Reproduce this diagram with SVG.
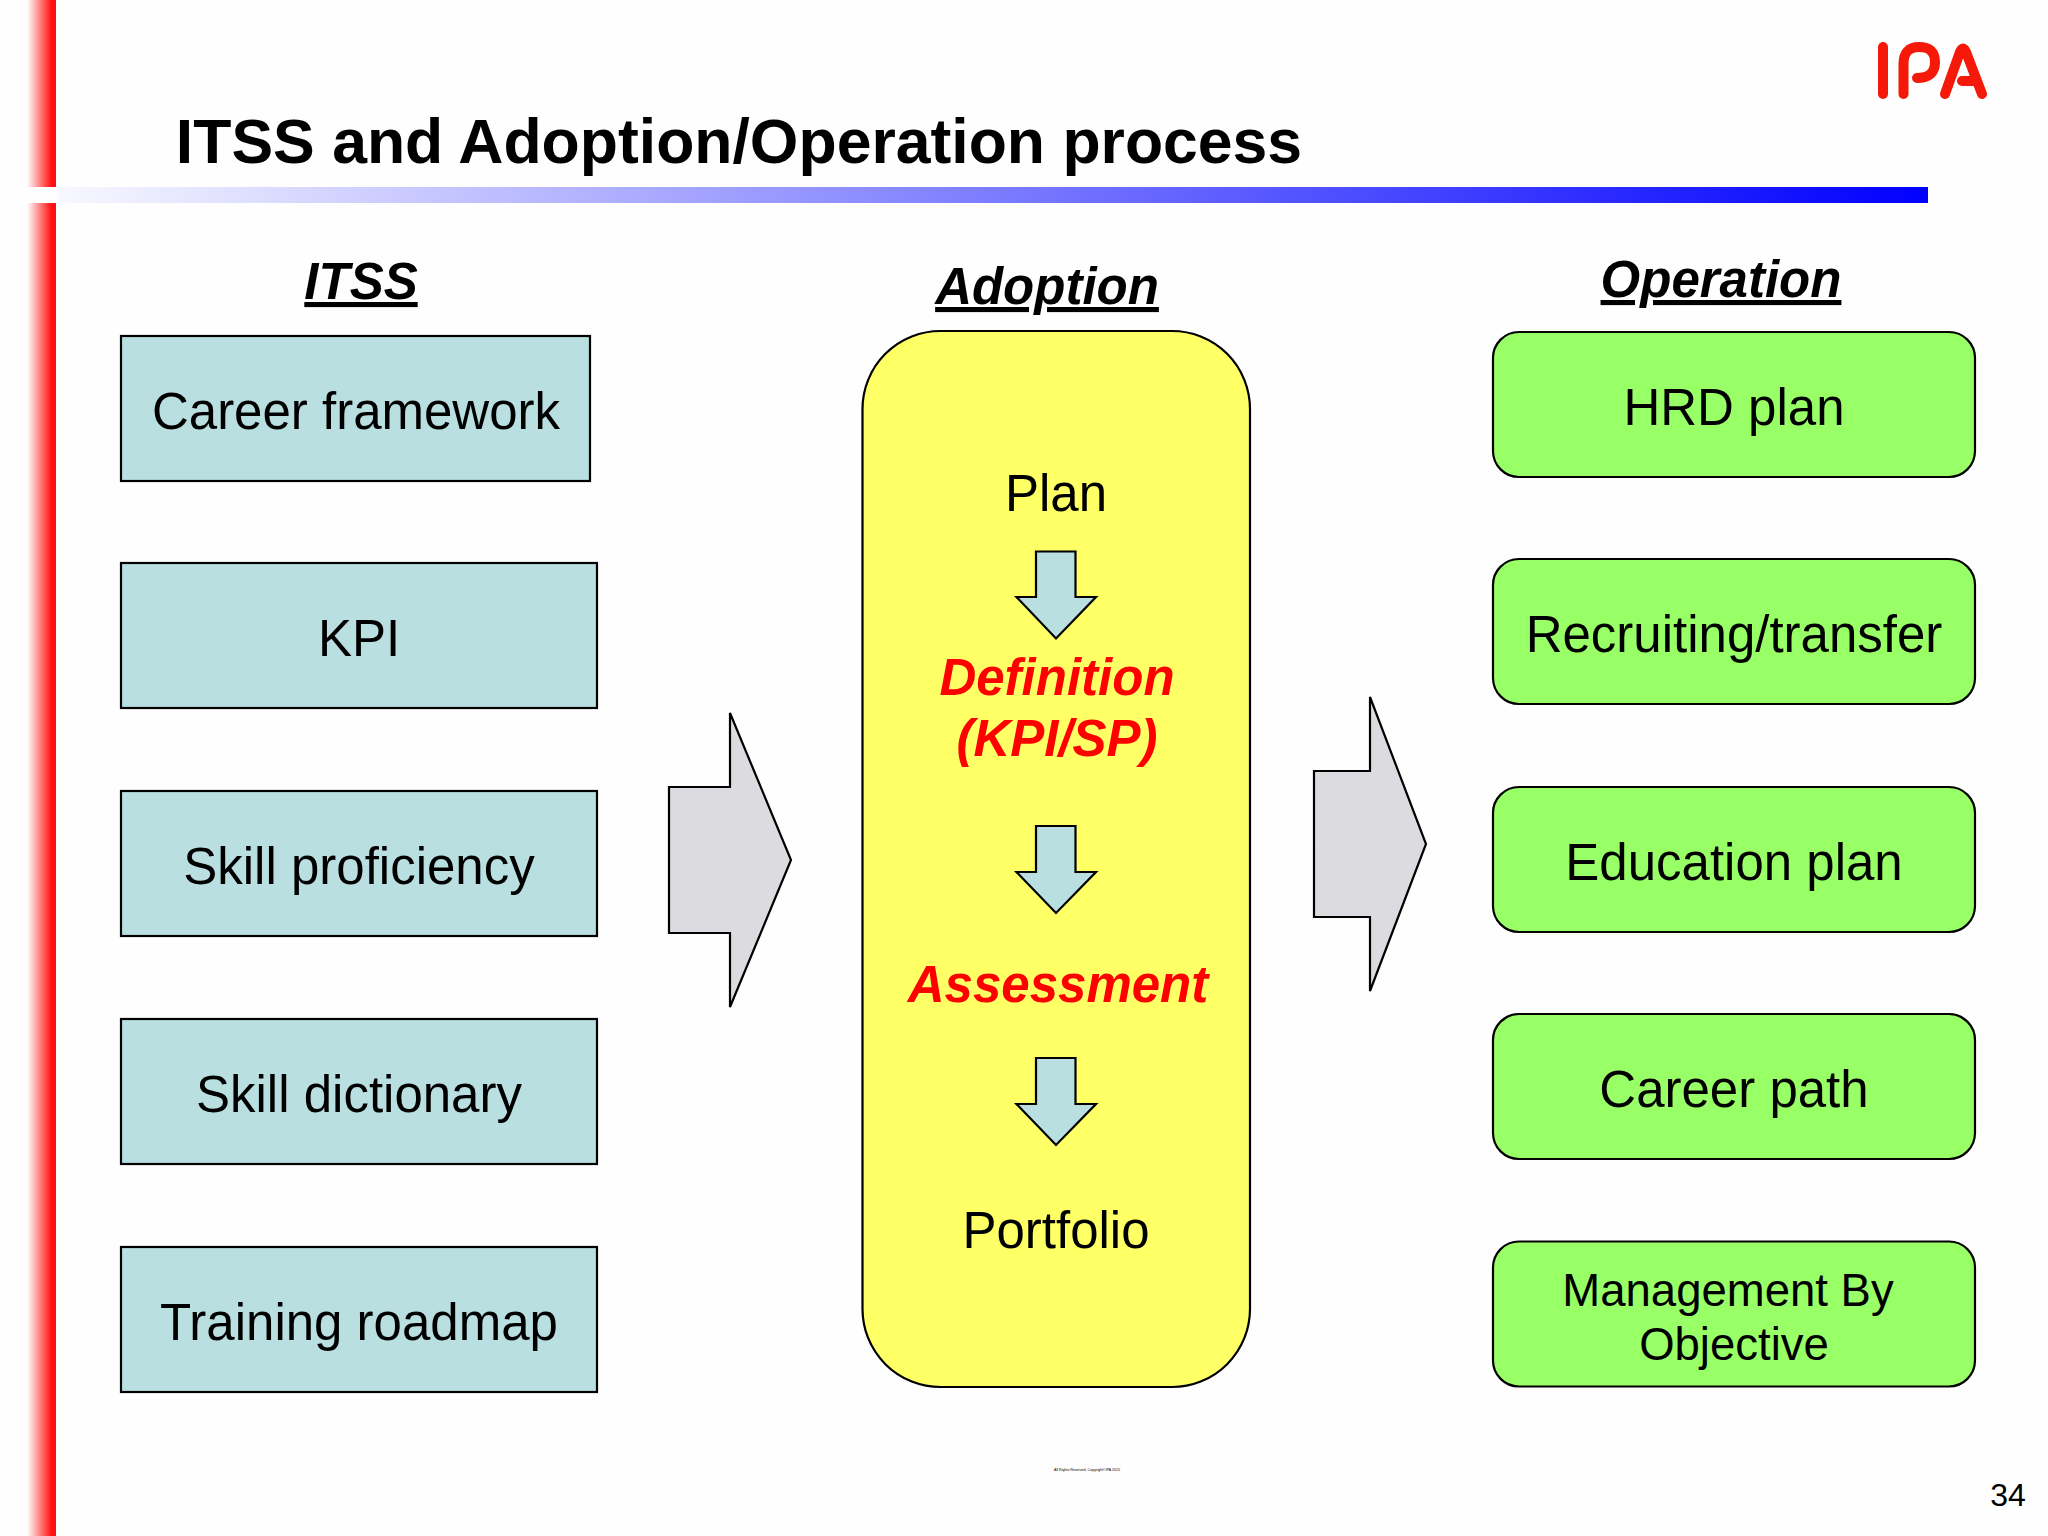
<svg xmlns="http://www.w3.org/2000/svg" width="2048" height="1536" viewBox="0 0 2048 1536">
<style>
text{font-family:"Liberation Sans",Arial,sans-serif;fill:#000;text-anchor:middle}
.b{fill:#b9dfe1;stroke:#000;stroke-width:2.2}
.g{fill:#99ff66;stroke:#000;stroke-width:2.2}
.t{font-size:51px}
.h{font-size:51px;font-weight:bold;font-style:italic;text-decoration:underline}
.r{font-size:51px;font-weight:bold;font-style:italic;fill:#ff0000}
.a{fill:#dcdce0;stroke:#000;stroke-width:2.2;stroke-linejoin:miter}
.d{fill:#b9dfe1;stroke:#000;stroke-width:2.2}
.l{fill:none;stroke:#f5190a;stroke-width:10;stroke-linecap:round;stroke-linejoin:round}
</style>
<defs>
<linearGradient id="rg" x1="0" x2="1" y1="0" y2="0"><stop offset="0" stop-color="#fff"/><stop offset="0.85" stop-color="#ff1010"/><stop offset="1" stop-color="#ff1010"/></linearGradient>
<linearGradient id="bg" x1="0" x2="1" y1="0" y2="0"><stop offset="0" stop-color="#f8f8ff"/><stop offset="1" stop-color="#0000ff"/></linearGradient>
</defs>
<rect width="2048" height="1536" fill="#fdfefd"/>
<g id="decor">
<rect x="27" y="0" width="29" height="187" fill="url(#rg)"/>
<rect x="27" y="203" width="29" height="1333" fill="url(#rg)"/>
<rect x="58" y="187" width="1870" height="16" fill="url(#bg)"/>
</g>
<g id="logo">
<path class="l" d="M1883 47V94"/>
<path class="l" d="M1903.5 94V64Q1903.5 47 1919 47Q1935 47 1935 62Q1935 78 1917 78"/>
<path class="l" d="M1945 94L1960 52Q1963 45 1966 52L1982 94M1962 81H1975"/>
</g>
<text id="title" x="739" y="163" font-size="62.500" font-weight="bold">ITSS and Adoption/Operation process</text>
<g id="headers">
<text class="h" x="361" y="299">ITSS</text>
<text class="h" x="1047" y="304">Adoption</text>
<text class="h" x="1721" y="297">Operation</text>
</g>
<g id="connectors">
<path id="arrow-itss-adoption" class="a" d="M669 787H730V713L791 860L730 1007V933H669Z"/>
<path id="arrow-adoption-operation" class="a" d="M1314 771H1370V697L1426 844L1370 991V917H1314Z"/>
</g>
<g id="itss-career"><rect class="b" x="121" y="336" width="469" height="145"/><text class="t" x="356" y="429">Career framework</text></g>
<g id="itss-kpi"><rect class="b" x="121" y="563" width="476" height="145"/><text class="t" x="359" y="656">KPI</text></g>
<g id="itss-skill-prof"><rect class="b" x="121" y="791" width="476" height="145"/><text class="t" x="359" y="884">Skill proficiency</text></g>
<g id="itss-skill-dict"><rect class="b" x="121" y="1019" width="476" height="145"/><text class="t" x="359" y="1112">Skill dictionary</text></g>
<g id="itss-roadmap"><rect class="b" x="121" y="1247" width="476" height="145"/><text class="t" x="359" y="1340">Training roadmap</text></g>
<g id="adoption">
<rect x="862.500" y="331" width="387.500" height="1056" rx="78" ry="78" fill="#ffff66" stroke="#000" stroke-width="2.2"/>
<text class="t" x="1056" y="511">Plan</text>
<path class="d" d="M1036 551.500H1075.500V597H1096L1056 638.500L1016.500 597H1036Z"/>
<text class="r" x="1057" y="695">Definition</text>
<text class="r" x="1057" y="756">(KPI/SP)</text>
<path class="d" d="M1036 826H1075.500V872H1096L1056 913L1016.500 872H1036Z"/>
<text class="r" x="1058" y="1002">Assessment</text>
<path class="d" d="M1036 1058H1075.500V1104H1096L1056 1145L1016.500 1104H1036Z"/>
<text class="t" x="1056" y="1248">Portfolio</text>
</g>
<g id="op-hrd"><rect class="g" x="1493" y="332" width="482" height="145" rx="26"/><text class="t" x="1734" y="425">HRD plan</text></g>
<g id="op-recruit"><rect class="g" x="1493" y="559" width="482" height="145" rx="26"/><text class="t" x="1734" y="652">Recruiting/transfer</text></g>
<g id="op-edu"><rect class="g" x="1493" y="787" width="482" height="145" rx="26"/><text class="t" x="1734" y="880">Education plan</text></g>
<g id="op-career"><rect class="g" x="1493" y="1014" width="482" height="145" rx="26"/><text class="t" x="1734" y="1107">Career path</text></g>
<g id="op-mbo"><rect class="g" x="1493" y="1241.500" width="482" height="145" rx="26"/><text x="1728" y="1306" font-size="45.500">Management By</text><text x="1734" y="1360" font-size="45.500">Objective</text></g>
<text id="footer" x="1087" y="1471" font-size="3.600">All Rights Reserved, Copyright©IPA 2015</text>
<text id="page" x="2008" y="1506" font-size="32">34</text>
</svg>
